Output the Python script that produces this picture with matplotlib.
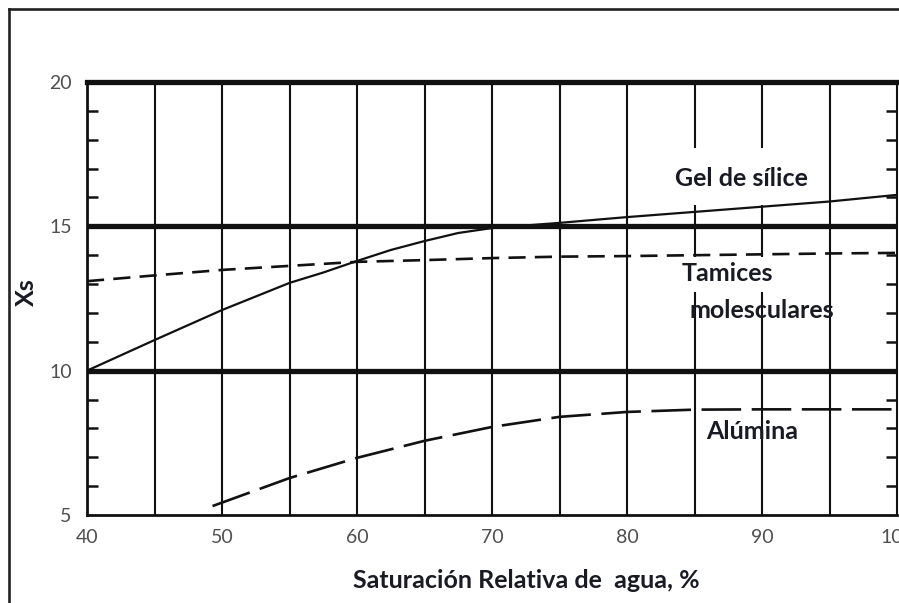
import matplotlib
matplotlib.use("Agg")
import matplotlib.pyplot as plt
from matplotlib.ticker import MultipleLocator
from matplotlib.lines import Line2D

# Relative water saturation (%) and adsorbent capacity Xs
sat_gel = [40, 45, 50, 55, 57.5, 60, 62.5, 65, 67.5, 70, 72.5, 75, 80, 85, 90, 95, 100]
xs_gel = [10.0, 11.06, 12.1, 13.04, 13.4, 13.8, 14.18, 14.49, 14.77, 14.94, 15.03,
          15.12, 15.32, 15.5, 15.68, 15.86, 16.09]

sat_tamices = [40, 45, 50, 55, 60, 65, 70, 75, 80, 85, 90, 95, 100]
xs_tamices = [13.1, 13.3, 13.49, 13.63, 13.77, 13.83, 13.9, 13.95, 13.97, 14.0, 14.03, 14.06, 14.08]

sat_alumina = [49.3, 55, 60, 65, 70, 75, 80, 85, 90, 95, 100]
xs_alumina = [5.31, 6.28, 6.98, 7.57, 8.05, 8.4, 8.57, 8.65, 8.66, 8.66, 8.66]

x_ticks = [40, 50, 60, 70, 80, 90, 100]
x_ticklabels = ["40", "50", "60", "70", "80", "90", "100"]
y_ticks = [5, 10, 15, 20]
y_ticklabels = ["5", "10", "15", "20"]

W, H = 899, 603
fig = plt.figure(figsize=(W / 100, H / 100), dpi=100)
fig.patch.set_facecolor("white")

ax = fig.add_axes([87 / W, 1 - 515 / H, 810 / W, 433 / H])
ax.set_xlim(40, 100)
ax.set_ylim(5, 20)

ink = "#111111"
tick_grey = "#4f4f4f"
text_ink = "#1a1a24"
label_font = "Lato"

# vertical grid every 5 %, with openings behind two of the labels
gaps = {85: [(12.73, 13.95), (15.74, 17.71)], 90: [(12.73, 13.95), (15.74, 17.71)]}
for gx in range(45, 100, 5):
    spans = []
    lo = 5
    for g0, g1 in gaps.get(gx, []):
        spans.append((lo, g0))
        lo = g1
    spans.append((lo, 20))
    for s0, s1 in spans:
        ax.vlines(gx, s0, s1, color=ink, lw=1.5, zorder=2)

# heavy horizontal rules
for hy in (10, 15):
    ax.axhline(hy, color=ink, lw=3.8, zorder=3)

for side in ("left", "bottom", "right"):
    ax.spines[side].set_color(ink)
ax.spines["left"].set_linewidth(2.0)
ax.spines["bottom"].set_linewidth(2.0)
ax.spines["right"].set_linewidth(1.5)
ax.spines["top"].set_color(ink)
ax.spines["top"].set_linewidth(3.8)

# curves
ax.plot(sat_gel, xs_gel, color=ink, lw=1.6, zorder=4, solid_capstyle="butt",
        solid_joinstyle="round")
ax.plot(sat_tamices, xs_tamices, color=ink, lw=1.9, zorder=4,
        linestyle=(0, (6.5, 3.5)), dash_capstyle="butt")
ax.plot(sat_alumina, xs_alumina, color=ink, lw=1.9, zorder=4,
        linestyle=(0, (15.0, 4.0)), dash_capstyle="butt")

# ticks
ax.set_xticks(x_ticks)
ax.set_xticklabels(x_ticklabels)
ax.set_yticks(y_ticks)
ax.set_yticklabels(y_ticklabels)
ax.tick_params(axis="both", which="major", length=0, labelsize=14,
               labelcolor=tick_grey)
ax.tick_params(axis="x", which="major", pad=10)
ax.tick_params(axis="y", which="major", pad=11)
ax.yaxis.set_minor_locator(MultipleLocator(1))
ax.tick_params(axis="y", which="minor", direction="in", left=True, right=True,
               length=8, width=1.8, color=ink)
for lab in ax.get_xticklabels() + ax.get_yticklabels():
    lab.set_fontfamily(label_font)

# curve labels
lab_kw = dict(fontsize=18, fontweight="bold", color=text_ink,
              family=label_font, ha="center", va="center", zorder=6)
ax.text(88.5, 16.64, "Gel de sílice", **lab_kw)
ax.text(87.4, 13.35, "Tamices", **lab_kw)
ax.text(90.0, 12.1, "molesculares", **lab_kw)
ax.text(89.3, 7.88, "Alúmina", **lab_kw)

# axis titles
fig.text(526 / W, 1 - 580 / H, "Saturación Relativa de  agua, %",
         fontsize=18, fontweight="bold", color=text_ink, family=label_font,
         ha="center", va="center")
fig.text(26 / W, 1 - 292 / H, "Xs", rotation=90,
         fontsize=18, fontweight="bold", color=text_ink, family=label_font,
         ha="center", va="center")

# outer frame (left and top edges)
fx = 8.7 / W
fy = 1 - 9.3 / H
fig.add_artist(Line2D([fx, fx], [0, fy], transform=fig.transFigure,
                      color="#222222", lw=1.9))
fig.add_artist(Line2D([fx, 1.0], [fy, fy], transform=fig.transFigure,
                      color="#222222", lw=1.9))

fig.savefig("out.png", dpi=100, facecolor="white")
